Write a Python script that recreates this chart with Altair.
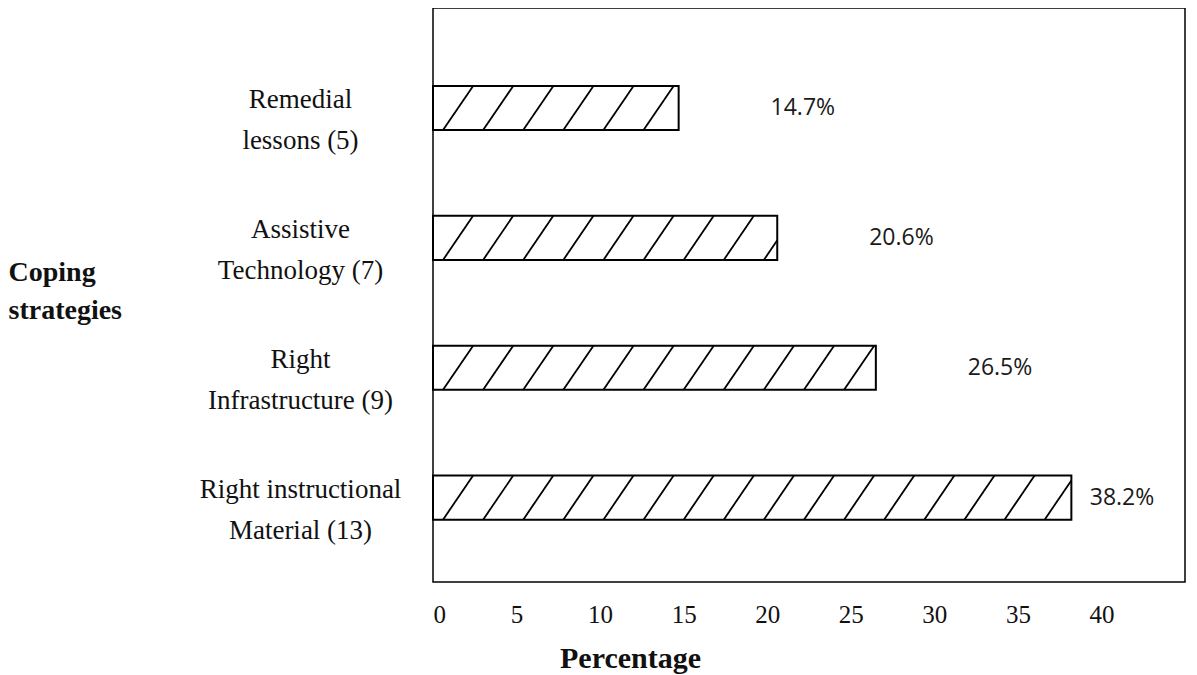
import altair as alt
import pandas as pd

categories = ["Remedial lessons (5)", "Assistive Technology (7)", "Right Infrastructure (9)", "Right instructional Material (13)"]
label_lines = ["Remedial|lessons (5)", "Assistive|Technology (7)", "Right|Infrastructure (9)", "Right instructional|Material (13)"]
values = [14.7, 20.6, 26.5, 38.2]
x_ticks = [0, 5, 10, 15, 20, 25, 30, 35, 40]

n = len(categories)
df = pd.DataFrame({
    "category": categories,
    "value": values,
    "idx": [n - 1 - i for i in range(n)],
})
df["label"] = [f"{v:.1f}%" for v in values]

HALF = 0.17
RUN = 1.8
STEP = 2.4

label_by_idx = [label_lines[n - 1 - k] for k in range(n)]
label_expr = "split(" + str(label_by_idx) + "[datum.value], '|')"

xscale = alt.Scale(domain=[0, 45], nice=False, zero=True)
yscale = alt.Scale(domain=[-0.65, 3.77], nice=False, zero=False)

base = alt.Chart(df).transform_calculate(
    y0="datum.idx - %f" % HALF,
    y1="datum.idx + %f" % HALF,
    zero="0",
)

bars = base.mark_rect(fill="white", stroke="black", strokeWidth=2).encode(
    x=alt.X("zero:Q", scale=xscale,
            axis=alt.Axis(values=x_ticks, title="Percentage", grid=False, ticks=False, domain=False,
                          labelFont="Liberation Serif", labelFontSize=25, labelColor="#111",
                          labelPadding=20, labelBaseline="top",
                          titleFont="Liberation Serif", titleFontSize=30, titleFontWeight="bold",
                          titleColor="#111", titleX=197, titleY=85, titleAlign="center",
                          titleBaseline="alphabetic")),
    x2="value:Q",
    y=alt.Y("y0:Q", scale=yscale,
            axis=alt.Axis(values=list(range(n)), labelExpr=label_expr, grid=False, ticks=False,
                          domain=False, labelAlign="center", labelBaseline="middle",
                          labelPadding=133, labelLimit=400, labelFont="Liberation Serif",
                          labelFontSize=27, labelLineHeight=41, labelColor="#111",
                          labelOffset=-8,
                          title=["Coping", "strategies"], titleAngle=0, titleAlign="left",
                          titleBaseline="middle", titleX=-425, titleY=264,
                          titleFont="Liberation Serif", titleFontSize=28, titleFontWeight="bold",
                          titleLineHeight=38, titleColor="#111")),
    y2="y1:Q",
)

hatch = base.transform_calculate(
    starts="sequence(0.6, datum.value - 0.3, %f)" % STEP
).transform_flatten(["starts"]).transform_calculate(
    hx1="datum.starts",
    hx2="min(datum.starts + %f, datum.value)" % RUN,
    hy1="datum.idx - %f" % HALF,
    hy2="datum.idx - %f + (min(datum.starts + %f, datum.value) - datum.starts) / %f * %f" % (HALF, RUN, RUN, 2 * HALF),
).mark_rule(color="black", strokeWidth=1.8).encode(
    x=alt.X("hx1:Q", scale=xscale),
    x2="hx2:Q",
    y=alt.Y("hy1:Q", scale=yscale),
    y2="hy2:Q",
)

labels = base.transform_calculate(
    lx="datum.value < 35 ? datum.value + 5.5 : datum.value + 1.1"
).mark_text(align="left", baseline="middle", font="Open Sans", fontSize=23, color="#1a1a1a").encode(
    x=alt.X("lx:Q", scale=xscale),
    y=alt.Y("idx:Q", scale=yscale),
    text="label:N",
)

chart = alt.layer(bars, hatch, labels).properties(
    width=752, height=574,
    padding={"left": 425, "top": 0, "right": 4, "bottom": 92},
    autosize=alt.AutoSizeParams(type="none"),
).configure(background="white").configure_view(stroke="black", strokeWidth=1.5)

chart.save("out.html", embed_options={"renderer": "svg", "actions": False})
